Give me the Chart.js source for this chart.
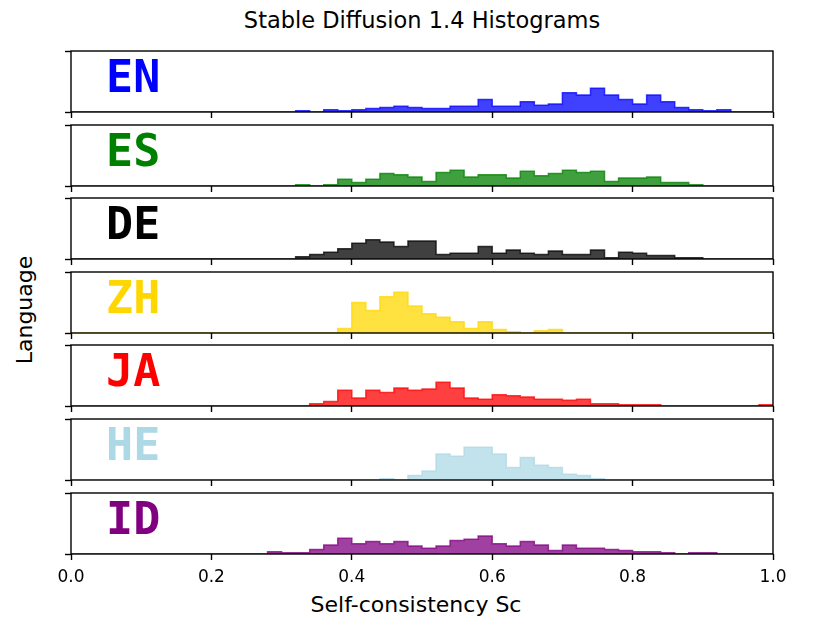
<!DOCTYPE html>
<html>
<head>
<meta charset="utf-8">
<script src="https://cdn.jsdelivr.net/npm/chart.js@4.4.1/dist/chart.umd.min.js"></script>
<style>
  body { margin: 0; background: #fff; }
  #fig { position: relative; width: 830px; height: 623px; font-family: "DejaVu Sans", sans-serif; color: #000; }
  .panel { position: absolute; left: 0; width: 830px; }
  .txt { position: absolute; white-space: nowrap; line-height: 1; transform: translate(-50%, -50%); }
  #title { left: 422px; top: 20px; font-size: 22.5px; }
  #xlab { left: 416px; top: 605px; font-size: 22px; }
  #ylab { left: 25px; top: 310px; font-size: 22px; transform: translate(-50%, -50%) rotate(-90deg); }
</style>
</head>
<body>
<div id="fig">
  <div class="txt" id="title">Stable Diffusion 1.4 Histograms</div>
  <div class="txt" id="ylab">Language</div>
  <div class="txt" id="xlab">Self-consistency Sc</div>
</div>
<script>
// languages, colours and the shared axes
const languages = ["EN", "ES", "DE", "ZH", "JA", "HE", "ID"];
const colors = ["#0000ff", "#008000", "#000000", "#ffd700", "#ff0000", "#add8e6", "#800080"];
const xTicks = [0.0, 0.2, 0.4, 0.6, 0.8, 1.0];
const binWidth = 0.02;   // 50 bins over [0, 1]
const yMax = 54;         // shared y limit (counts)

// counts per bin
const en = [0,0,0,0,0,0,0,0,0,0, 0,0,0,0,0,0,1,0,2,1, 2,3,4,5,4,3,3,5,5,11, 5,5,9,6,7,17,15,21,15,11, 7,15,9,4,2,1,2,0,0,0];
const es = [0,0,0,0,0,0,0,0,0,0, 0,0,0,0,0,0,1,0,1,6, 3,6,11,10,8,4,12,14,8,10, 10,7,13,9,11,14,12,13,4,7, 7,8,3,3,1,0,0,0,0,0];
const de = [0,0,0,0,0,0,0,0,0,0, 0,0,0,0,0,0,2,4,6,9, 14,17,15,11,16,16,4,5,5,11, 5,8,5,4,7,4,4,8,1,6, 5,3,3,1,1,0,0,0,0,0];
const zh = [0,0,0,0,0,0,0,0,0,0, 0,0,0,0,0,0,0,0,0,4, 27,20,32,36,24,17,14,10,4,10, 3,1,0,2,3,0,0,0,0,0, 0,0,0,0,0,0,0,0,0,0];
const ja = [0,0,0,0,0,0,0,0,0,0, 0,0,0,0,0,0,0,2,4,14, 7,14,12,16,14,15,21,16,7,6, 10,9,8,6,6,5,6,2,2,1, 1,1,0,0,0,0,0,0,0,1];
const he = [0,0,0,0,0,0,0,0,0,0, 0,0,0,0,0,0,0,0,0,0, 0,0,1,0,4,8,23,21,29,29, 23,11,20,13,11,5,4,1,0,0, 0,0,0,0,0,0,0,0,0,0];
const id = [0,0,0,0,0,0,0,0,0,0, 0,0,0,0,2,1,1,4,8,14, 9,11,9,11,7,5,7,12,13,16, 9,7,11,8,3,8,5,5,4,3, 2,2,1,0,1,1,0,0,0,0];
const series = [en, es, de, zh, ja, he, id];

Chart.defaults.font.family = "'DejaVu Sans', sans-serif";
Chart.defaults.color = "#000";

function alpha(hex, a) {
  const n = parseInt(hex.slice(1), 16);
  return `rgba(${n >> 16},${(n >> 8) & 255},${n & 255},${a})`;
}

// step outline: one point per bin at its left edge; stepped 'before'
// runs horizontally at the previous point's height, so each count spans its own bin
function stepPoints(counts) {
  const pts = [{x: 0, y: 0}];
  counts.forEach((c, i) => pts.push({x: i * binWidth, y: c}));
  pts.push({x: 1, y: 0});
  return pts;
}

// frame drawn on top like matplotlib spines, plus the big language tag
const framePlugin = {
  id: 'frame',
  afterDatasetsDraw(chart, args, opts) {
    const {ctx, chartArea: a} = chart;
    ctx.save();
    ctx.fillStyle = opts.color;
    ctx.font = "bold 45px 'DejaVu Sans Mono'";
    ctx.textBaseline = 'alphabetic';
    ctx.textAlign = 'left';
    ctx.fillText(opts.label, chart.scales.x.getPixelForValue(0.05), a.top + 41);
    ctx.strokeStyle = '#000';
    ctx.lineWidth = 1.4;
    ctx.strokeRect(a.left, a.top, a.right - a.left, a.bottom - a.top);
    ctx.restore();
  }
};

const fig = document.getElementById('fig');
const padTop = 5, plotH = 61;

languages.forEach((lang, k) => {
  const last = k === languages.length - 1;
  const axisH = last ? 40 : 10;
  const top = 51 + 73.6 * k;
  const box = document.createElement('div');
  box.className = 'panel';
  box.style.top = (top - padTop) + 'px';
  box.style.height = (padTop + plotH + axisH) + 'px';
  const cv = document.createElement('canvas');
  box.appendChild(cv);
  fig.appendChild(box);

  new Chart(cv, {
    type: 'line',
    data: {
      datasets: [{
        data: stepPoints(series[k]),
        stepped: 'before',
        fill: 'origin',
        backgroundColor: alpha(colors[k], 0.75),
        borderColor: alpha(colors[k], 0.75),
        borderWidth: 1.5,
        pointRadius: 0,
        tension: 0
      }]
    },
    options: {
      responsive: true,
      maintainAspectRatio: false,
      animation: false,
      events: [],
      layout: { padding: { top: padTop, right: 57, left: 0, bottom: 0 } },
      plugins: {
        legend: { display: false },
        tooltip: { enabled: false },
        frame: { label: lang, color: colors[k] }
      },
      scales: {
        x: {
          type: 'linear',
          min: 0,
          max: 1,
          afterBuildTicks: ax => { ax.ticks = xTicks.map(v => ({value: v})); },
          afterFit: ax => { ax.height = axisH; },
          border: { display: false },
          grid: { drawOnChartArea: false, drawTicks: true, tickLength: 6, tickWidth: 1.4, tickColor: '#000' },
          ticks: {
            display: last,
            maxRotation: 0,
            padding: 7,
            font: { size: 17 },
            callback: v => v.toFixed(1)
          }
        },
        y: {
          min: 0,
          max: yMax,
          afterBuildTicks: ax => { ax.ticks = [{value: 0}, {value: yMax}]; },
          afterFit: ax => { ax.width = 71; },
          border: { display: false },
          grid: { drawOnChartArea: false, drawTicks: true, tickLength: 6, tickWidth: 1.4, tickColor: '#000' },
          ticks: { display: false }
        }
      }
    },
    plugins: [framePlugin]
  });
});
</script>
</body>
</html>
